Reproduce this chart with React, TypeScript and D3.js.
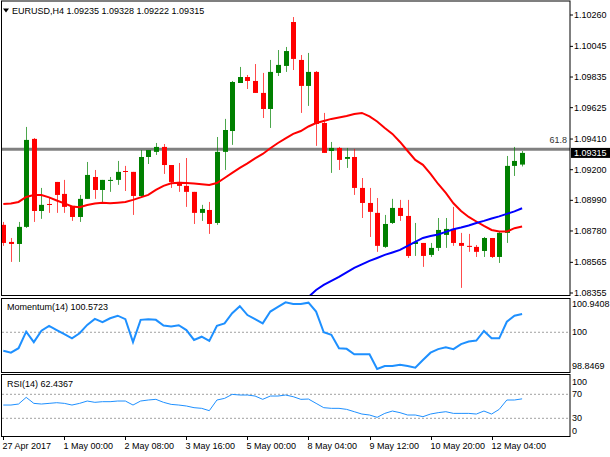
import React from 'react';
import * as d3 from 'd3';

const W = 610;
const H = 457;

const symbol = 'EURUSD,H4';
const lastQuote = ['1.09235', '1.09328', '1.09222', '1.09315'];

const opens = [1.08822, 1.08705, 1.08691, 1.08808, 1.09411, 1.08917, 1.08965, 1.09116, 1.09034, 1.08952,
  1.08876, 1.09000, 1.09150, 1.09061, 1.09123, 1.09130, 1.09191, 1.09185, 1.09020, 1.09287,
  1.09322, 1.09356, 1.09232, 1.09116, 1.09089, 1.09048, 1.08904, 1.08924, 1.08835, 1.09322,
  1.09465, 1.09794, 1.09835, 1.09808, 1.09726, 1.09616, 1.09863, 1.09911, 1.10212, 1.09952,
  1.09774, 1.09870, 1.09520, 1.09328, 1.09349, 1.09274, 1.09287, 1.09075, 1.08972, 1.08904,
  1.08671, 1.08835, 1.08938, 1.08883, 1.08691, 1.08698, 1.08616, 1.08664, 1.08753, 1.08794,
  1.08698, 1.08678, 1.08671, 1.08643, 1.08732, 1.08602, 1.08767, 1.09226, 1.09235];
const highs = [1.08842, 1.08732, 1.08842, 1.09493, 1.09417, 1.09075, 1.09006, 1.09116, 1.09130, 1.08952,
  1.09027, 1.09253, 1.09198, 1.09130, 1.09150, 1.09260, 1.09226, 1.09185, 1.09335, 1.09335,
  1.09383, 1.09376, 1.09232, 1.09246, 1.09280, 1.09048, 1.08959, 1.08979, 1.09424, 1.09548,
  1.09808, 1.09904, 1.09849, 1.09924, 1.09863, 1.09952, 1.10020, 1.10041, 1.10246, 1.09986,
  1.10000, 1.09876, 1.09589, 1.09390, 1.09356, 1.09349, 1.09342, 1.09143, 1.09075, 1.09006,
  1.08890, 1.09000, 1.08993, 1.08993, 1.08835, 1.08698, 1.08698, 1.08869, 1.08869, 1.08945,
  1.08767, 1.08760, 1.08684, 1.08739, 1.08732, 1.08774, 1.09294, 1.09356, 1.09328];
const lows = [1.08678, 1.08568, 1.08568, 1.08801, 1.08842, 1.08863, 1.08904, 1.08904, 1.08904, 1.08849,
  1.08842, 1.09000, 1.09000, 1.08979, 1.09048, 1.09096, 1.09054, 1.08890, 1.09006, 1.09239,
  1.09301, 1.09171, 1.09075, 1.09048, 1.08945, 1.08828, 1.08849, 1.08760, 1.08822, 1.09198,
  1.09370, 1.09794, 1.09753, 1.09726, 1.09554, 1.09486, 1.09842, 1.09870, 1.09883, 1.09589,
  1.09637, 1.09363, 1.09315, 1.09178, 1.09198, 1.09212, 1.09027, 1.08869, 1.08739, 1.08637,
  1.08664, 1.08828, 1.08849, 1.08595, 1.08609, 1.08534, 1.08602, 1.08643, 1.08664, 1.08678,
  1.08390, 1.08637, 1.08602, 1.08602, 1.08595, 1.08561, 1.08698, 1.09157, 1.09222];
const closes = [1.08698, 1.08691, 1.08808, 1.09404, 1.08917, 1.08959, 1.08959, 1.09027, 1.08945, 1.08876,
  1.09000, 1.09164, 1.09061, 1.09130, 1.09130, 1.09185, 1.09185, 1.09020, 1.09287, 1.09335,
  1.09356, 1.09232, 1.09116, 1.09089, 1.09048, 1.08904, 1.08931, 1.08828, 1.09322, 1.09472,
  1.09801, 1.09835, 1.09808, 1.09726, 1.09616, 1.09870, 1.09918, 1.10013, 1.09959, 1.09774,
  1.09870, 1.09513, 1.09315, 1.09349, 1.09267, 1.09287, 1.09075, 1.08972, 1.08911, 1.08678,
  1.08828, 1.08938, 1.08883, 1.08609, 1.08705, 1.08609, 1.08664, 1.08787, 1.08794, 1.08698,
  1.08678, 1.08671, 1.08637, 1.08732, 1.08602, 1.08767, 1.09226, 1.09260, 1.09315];

const redMA = [1.08965, 1.08969, 1.08979, 1.09013, 1.09027, 1.09027, 1.09010, 1.08989, 1.08969, 1.08948,
  1.08943, 1.08958, 1.08969, 1.08974, 1.08970, 1.08974, 1.08979, 1.08993, 1.09010, 1.09027,
  1.09061, 1.09089, 1.09107, 1.09111, 1.09109, 1.09106, 1.09100, 1.09095, 1.09109, 1.09143,
  1.09178, 1.09212, 1.09243, 1.09277, 1.09308, 1.09347, 1.09383, 1.09414, 1.09445, 1.09465,
  1.09496, 1.09520, 1.09534, 1.09548, 1.09558, 1.09568, 1.09582, 1.09589, 1.09565, 1.09530,
  1.09486, 1.09445, 1.09390, 1.09328, 1.09267, 1.09233, 1.09171, 1.09102, 1.09041, 1.08970,
  1.08917, 1.08876, 1.08845, 1.08815, 1.08787, 1.08776, 1.08776, 1.08799, 1.08810];
const blueMAStart = 39;
const blueMA = [1.08294, 1.08328, 1.08376, 1.08410, 1.08438, 1.08465, 1.08496, 1.08527, 1.08551, 1.08575,
  1.08595, 1.08616, 1.08633, 1.08650, 1.08678, 1.08705, 1.08732, 1.08746, 1.08756, 1.08774,
  1.08792, 1.08804, 1.08818, 1.08835, 1.08849, 1.08866, 1.08880, 1.08897, 1.08914, 1.08936];

const momentum = [99.42, 99.36, 99.50, 100.02, 99.69, 100.05, 100.20, 100.07, 99.94, 99.81,
  99.97, 100.23, 100.42, 100.32, 100.44, 100.52, 100.41, 99.69, 100.39, 100.41,
  100.39, 100.21, 100.18, 100.22, 100.07, 99.76, 99.86, 99.73, 100.20, 100.28,
  100.60, 100.82, 100.54, 100.41, 100.28, 100.65, 100.80, 100.9408, 100.89, 100.89,
  100.93, 100.65, 100.00, 99.92, 99.50, 99.48, 99.31, 99.31, 99.31, 98.8469,
  98.94, 98.94, 98.98, 98.94, 98.89, 99.13, 99.36, 99.47, 99.53, 99.47,
  99.63, 99.71, 99.74, 100.04, 99.81, 99.81, 100.33, 100.52, 100.5723];
const rsi = [52.1, 52.1, 53.8, 64.9, 54.9, 53.8, 54.9, 56.0, 54.9, 52.1,
  54.9, 58.8, 56.6, 57.7, 57.7, 58.8, 58.8, 52.1, 58.8, 60.5,
  61.6, 56.6, 53.2, 52.1, 50.5, 47.7, 46.6, 42.7, 60.5, 63.2,
  69.9, 68.8, 68.8, 67.1, 61.6, 67.1, 67.1, 68.8, 66.0, 61.6,
  62.1, 54.9, 47.7, 46.6, 46.6, 44.9, 41.0, 37.1, 35.5, 31.6,
  38.2, 42.1, 39.4, 35.5, 35.5, 32.7, 37.1, 39.4, 41.0, 38.2,
  38.2, 38.2, 37.1, 42.1, 37.1, 44.9, 60.5, 60.5, 62.4367];

const priceTicks = [1.10260, 1.10045, 1.09835, 1.09625, 1.09410, 1.09200, 1.08990, 1.08780, 1.08565, 1.08355];
const timeLabels = ['27 Apr 2017', '1 May 00:00', '2 May 08:00', '3 May 16:00', '5 May 00:00',
  '8 May 04:00', '9 May 12:00', '10 May 20:00', '12 May 04:00'];
const timeLabelBars = [0, 8, 16, 24, 32, 40, 48, 56, 64];
const momentumTicks = [100.9408, 100, 98.8469];
const momentumLevel = 100;
const rsiTicks = [100, 70, 30, 0];
const rsiLevels = [70, 30];
const fibLevel = 1.0934;
const fibLabel = '61.8';

const FONT = '"Liberation Sans", Arial, sans-serif';

export default function App() {
  const L = 2, R = 570;
  const main = { top: 1, bottom: 295.5 };
  const mom = { top: 298.5, bottom: 372.5 };
  const rs = { top: 374.5, bottom: 436.5 };

  const n = closes.length;
  const x = d3.scaleLinear().domain([0, n - 1]).range([3.3, 522.1]);
  const y = d3.scaleLinear().domain([1.08355, 1.1026]).range([293, 15]);
  const ym = d3.scaleLinear().domain([98.8469, 100.9408]).range([369, 302.3]);
  const yr = d3.scaleLinear().domain([0, 100]).range([436.3, 376.3]);

  const redLine = d3.line<number>().x((_, i) => x(i)).y(d => y(d))(redMA) || '';
  const blueLine = d3.line<number>().x((_, i) => x(i + blueMAStart)).y(d => y(d))(blueMA) || '';
  const momLine = d3.line<number>().x((_, i) => x(i)).y(d => ym(d))(momentum) || '';
  const rsiLine = d3.line<number>().x((_, i) => x(i)).y(d => yr(d))(rsi) || '';

  const last = closes[n - 1];
  const bull = '#008000';
  const bear = '#ff0000';

  return (
    <svg width={W} height={H} style={{ position: 'fixed', left: 0, top: 0, background: '#fff' }}
      fontFamily={FONT} fontSize={9}>
      <defs>
        <clipPath id="mainClip"><rect x={L} y={main.top} width={R - L} height={main.bottom - main.top} /></clipPath>
      </defs>
      <rect x={0} y={0} width={W} height={H} fill="#fff" />

      {/* fib line */}
      <line x1={L} x2={R} y1={y(fibLevel)} y2={y(fibLevel)} stroke="#808080" strokeWidth={3} />
      <text x={567} y={y(fibLevel) - 6} textAnchor="end" fill="#333">{fibLabel}</text>

      {/* candles */}
      <g clipPath="url(#mainClip)">
        {closes.map((c, i) => {
          const o = opens[i];
          const up = c >= o;
          const col = up ? bull : bear;
          const cx = Math.round(x(i)) + 0.5;
          const top = y(Math.max(o, c));
          const bot = y(Math.min(o, c));
          return (
            <g key={i}>
              <line x1={cx} x2={cx} y1={y(highs[i])} y2={y(lows[i])} stroke={col} strokeOpacity={0.7} strokeWidth={1} />
              <rect x={cx - 2.5} y={top} width={5} height={Math.max(bot - top, 1)} fill={col} />
            </g>
          );
        })}
        <path d={redLine} fill="none" stroke="#ff0000" strokeWidth={2} />
        <path d={blueLine} fill="none" stroke="#0000ff" strokeWidth={2} />
      </g>

      {/* title */}
      <path d="M3,8.5 L9,8.5 L6,12.5 Z" fill="#000" />
      <text x={12} y={11} dominantBaseline="central" fill="#000">
        {symbol + '  ' + lastQuote.join(' ')}
      </text>

      {/* main frame */}
      <rect x={L - 0.5} y={main.top} width={R - L + 0.5} height={main.bottom - main.top} fill="none" stroke="#000" />

      {/* price axis */}
      {priceTicks.map((t, i) => (
        <g key={i}>
          <line x1={R} x2={R + 3} y1={y(t)} y2={y(t)} stroke="#000" />
          <text x={574} y={y(t)} dominantBaseline="central" fill="#000">{t.toFixed(5)}</text>
        </g>
      ))}
      <rect x={R + 1} y={y(last) - 5} width={W - R - 1} height={10} fill="#000" />
      <text x={574} y={y(last)} dominantBaseline="central" fill="#fff">{last.toFixed(5)}</text>

      {/* momentum panel */}
      <line x1={L} x2={R} y1={ym(momentumLevel)} y2={ym(momentumLevel)} stroke="#a0a0a0" strokeDasharray="2,2" />
      <path d={momLine} fill="none" stroke="#1e90ff" strokeWidth={2} />
      <rect x={L - 0.5} y={mom.top} width={R - L + 0.5} height={mom.bottom - mom.top} fill="none" stroke="#000" />
      <text x={7} y={307} dominantBaseline="central" fill="#000">{'Momentum(14) ' + momentum[n - 1].toFixed(4)}</text>
      {momentumTicks.map((t, i) => {
        const off = i === 0 ? 2 : i === momentumTicks.length - 1 ? -3 : 0;
        return (
          <text key={i} x={572} y={ym(t) + off} dominantBaseline="central" fill="#000">{String(t)}</text>
        );
      })}

      {/* RSI panel */}
      {rsiLevels.map((lv, i) => (
        <line key={i} x1={L} x2={R} y1={yr(lv)} y2={yr(lv)} stroke="#a0a0a0" strokeDasharray="2,2" />
      ))}
      <path d={rsiLine} fill="none" stroke="#1e90ff" strokeWidth={1} />
      <rect x={L - 0.5} y={rs.top} width={R - L + 0.5} height={rs.bottom - rs.top} fill="none" stroke="#000" />
      <text x={7} y={384} dominantBaseline="central" fill="#000">{'RSI(14) ' + rsi[n - 1].toFixed(4)}</text>
      {rsiTicks.map((t, i) => {
        const off = t === 100 ? 5.5 : t === 0 ? -5.5 : 0;
        return (
          <text key={i} x={572} y={yr(t) + off} dominantBaseline="central" fill="#000">{String(t)}</text>
        );
      })}

      {/* time axis */}
      {timeLabelBars.map((b, i) => {
        const tx = Math.round(x(b)) + 0.5;
        return (
          <g key={i}>
            <line x1={tx} x2={tx} y1={rs.bottom} y2={rs.bottom + 3.5} stroke="#000" />
            <text x={tx - 1} y={446} dominantBaseline="central" fill="#000">{timeLabels[i]}</text>
          </g>
        );
      })}
    </svg>
  );
}
